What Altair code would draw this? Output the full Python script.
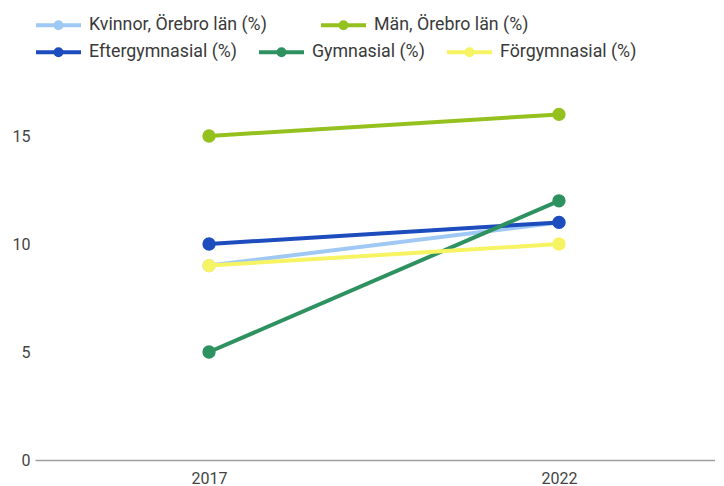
import altair as alt
import pandas as pd

years = [2017, 2022]
series = [
    "Kvinnor, Örebro län (%)",
    "Män, Örebro län (%)",
    "Eftergymnasial (%)",
    "Gymnasial (%)",
    "Förgymnasial (%)",
]
colors = ["#9fc9f4", "#95c11f", "#1c4cbd", "#2e9160", "#f7f463"]
kvinnor = [9, 11]
man = [15, 16]
efter = [10, 11]
gym = [5, 12]
forgym = [9, 10]
values = [kvinnor, man, efter, gym, forgym]
y_ticks = [0, 5, 10, 15]

rows = []
for i, (s, vals) in enumerate(zip(series, values)):
    for yr, v in zip(years, vals):
        rows.append({"year": yr, "serie": s, "value": v, "idx": i})
df = pd.DataFrame(rows)

LEGEND_PATH = (
    "M-1,0H1"
    "M0.133,0A0.133,0.133 0 1,1 -0.133,0A0.133,0.133 0 1,1 0.133,0"
    "M0.044,0A0.044,0.044 0 1,1 -0.044,0A0.044,0.044 0 1,1 0.044,0"
)

FONT = "Roboto"

x = alt.X(
    "year:Q",
    scale=alt.Scale(domain=[2014.514, 2024.229], nice=False, zero=False),
    axis=alt.Axis(
        values=years, format="d", title=None, grid=False, ticks=False,
        domainColor="#9e9e9e", domainWidth=1.5, labelPadding=10,
        labelFontSize=16, labelColor="#444444", labelFont=FONT,
    ),
)
y = alt.Y(
    "value:Q",
    scale=alt.Scale(domain=[0, 20], nice=False),
    axis=alt.Axis(
        values=y_ticks, title=None, grid=False, ticks=False, domain=False,
        labelPadding=5, labelFontSize=16, labelColor="#444444", labelFont=FONT,
    ),
)


def group(names, cols, legend_y, col_pad):
    sub = df[df["serie"].isin(names)]
    color = alt.Color(
        "serie:N",
        scale=alt.Scale(domain=names, range=cols),
        sort=names,
        legend=alt.Legend(
            title=None, orient="none", legendX=-1, legendY=legend_y,
            direction="horizontal", columns=len(names),
            symbolType=LEGEND_PATH, symbolSize=2025, symbolStrokeWidth=4,
            symbolOpacity=1, labelFontSize=17.8, labelFont=FONT,
            labelColor="#3a3a3a", labelOffset=6, columnPadding=col_pad,
            padding=0, labelLimit=400,
        ),
    )
    base = alt.Chart(sub)
    line = base.mark_line(strokeWidth=4).encode(x=x, y=y, color=color)
    pts = base.mark_circle(size=177, opacity=1).encode(x=x, y=y, color=color)
    return alt.layer(line, pts)


chart = (
    alt.layer(
        group(series[:2], colors[:2], -27.5, 46),
        group(series[2:], colors[2:], -0.5, 14),
    )
    .resolve_scale(color="independent")
    .properties(
        width=680,
        height=432,
        autosize="none",
        padding={"left": 27, "top": 20, "right": 0, "bottom": 26},
    )
    .configure_view(stroke=None)
)

chart.save("out.html", embed_options={"renderer": "svg", "actions": False})
